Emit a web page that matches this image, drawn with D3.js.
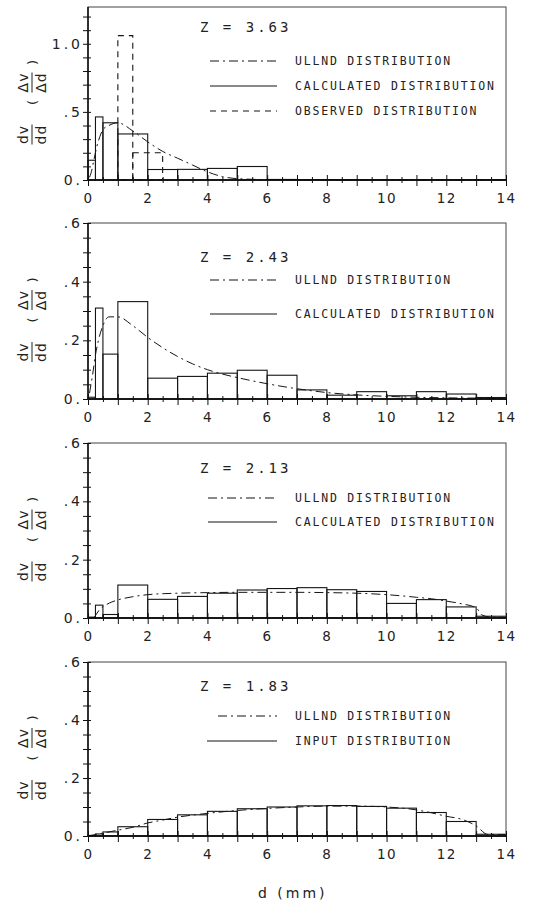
<!DOCTYPE html>
<html>
<head>
<meta charset="utf-8">
<script src="https://cdn.jsdelivr.net/npm/d3@7"></script>
<style>
  body { margin: 0; background: #fff; }
  text { font-family: "DejaVu Sans", sans-serif; fill: #222; }
  .mono { font-family: "DejaVu Sans Mono", monospace; }
</style>
</head>
<body>
<div id="chart"></div>
<script>
// ---- data ----
const binEdges = [0, 0.25, 0.5, 1, 2, 3, 4, 5, 6, 7, 8, 9, 10, 11, 12, 13, 14];
const zLabels = ["3.63", "2.43", "2.13", "1.83"];

// calculated / input histograms (one value per bin)
const calc363 = [0.145, 0.463, 0.42, 0.338, 0.077, 0.078, 0.085, 0.099, 0.004, 0.003, 0.003, 0.003, 0.002, 0.002, 0.002, 0.002];
const calc243 = [0.006, 0.31, 0.153, 0.332, 0.071, 0.077, 0.088, 0.098, 0.081, 0.031, 0.013, 0.025, 0.011, 0.025, 0.017, 0.005];
const calc213 = [0.003, 0.044, 0.012, 0.113, 0.064, 0.074, 0.085, 0.096, 0.101, 0.104, 0.097, 0.091, 0.05, 0.063, 0.038, 0.006];
const input183 = [0.002, 0.007, 0.014, 0.032, 0.057, 0.073, 0.085, 0.094, 0.1, 0.104, 0.105, 0.102, 0.096, 0.081, 0.05, 0.006];

// observed distribution (Z = 3.63 only)
const obsEdges = [1, 1.5, 2.5];
const obsValues = [1.06, 0.2];

// ULLND curves
const ullndX363 = [0.05, 0.1, 0.2, 0.3, 0.4, 0.5, 0.7, 1.0, 1.5, 2.0, 2.5, 3.0, 3.5, 4.0, 4.5, 5.0, 6, 8, 10, 14];
const ullndY363 = [0.02, 0.05, 0.15, 0.25, 0.32, 0.37, 0.40, 0.42, 0.36, 0.28, 0.21, 0.16, 0.11, 0.06, 0.025, 0.01, 0.003, 0.001, 0, 0];
const ullndX243 = [0.05, 0.15, 0.25, 0.35, 0.5, 0.7, 1.0, 1.5, 2, 2.5, 3, 3.5, 4, 4.5, 5, 5.5, 6, 6.5, 7, 7.5, 8, 9, 10, 11, 12, 13, 14];
const ullndY243 = [0.02, 0.08, 0.15, 0.2, 0.25, 0.28, 0.28, 0.25, 0.21, 0.175, 0.145, 0.12, 0.1, 0.085, 0.073, 0.062, 0.052, 0.043, 0.035, 0.028, 0.022, 0.014, 0.009, 0.006, 0.004, 0.003, 0.002];
const ullndX213 = [0.2, 0.4, 0.6, 0.8, 1.0, 1.5, 2, 3, 4, 5, 6, 7, 8, 9, 10, 10.5, 11, 11.5, 12, 12.5, 13, 13.2, 13.5, 14];
const ullndY213 = [0.0, 0.03, 0.045, 0.055, 0.062, 0.073, 0.08, 0.085, 0.087, 0.088, 0.088, 0.088, 0.087, 0.085, 0.08, 0.076, 0.071, 0.066, 0.058, 0.049, 0.035, 0.01, 0.003, 0.002];
const ullndX183 = [0, 0.5, 1, 1.5, 2, 2.5, 3, 3.5, 4, 5, 6, 7, 8, 9, 10, 11, 11.5, 12, 12.5, 13, 13.4, 14];
const ullndY183 = [0, 0.01, 0.02, 0.03, 0.045, 0.055, 0.065, 0.072, 0.078, 0.088, 0.095, 0.1, 0.103, 0.103, 0.1, 0.09, 0.08, 0.068, 0.058, 0.035, 0.005, 0.005];

// axis ticks
const xTickLabels = [0, 2, 4, 6, 8, 10, 12, 14];
const yTicksTop = [0, 0.5, 1.0];
const yTickTextTop = ["0.", ".5", "1.0"];
const yTicks = [0, 0.2, 0.4, 0.6];
const yTickText = ["0.", ".2", ".4", ".6"];

// ---- layout ----
const width = 549, height = 901;
const left = 88, right = 506;

const panels = [
  {top: 7,   bottom: 180, ymax: 1.27, minor: 0.1,  hist: calc363, ux: ullndX363, uy: ullndY363,
   ticks: yTicksTop, tickText: yTickTextTop, zY: 32, legY: [61, 86, 111], legX: [210, 210, 210],
   legend: ["ULLND DISTRIBUTION", "CALCULATED DISTRIBUTION", "OBSERVED DISTRIBUTION"]},
  {top: 223, bottom: 399, ymax: 0.6, minor: 0.05, hist: calc243, ux: ullndX243, uy: ullndY243,
   ticks: yTicks, tickText: yTickText, zY: 262, legY: [280, 314], legX: [210, 210],
   legend: ["ULLND DISTRIBUTION", "CALCULATED DISTRIBUTION"]},
  {top: 443, bottom: 618, ymax: 0.6, minor: 0.05, hist: calc213, ux: ullndX213, uy: ullndY213,
   ticks: yTicks, tickText: yTickText, zY: 473, legY: [498, 522], legX: [208, 208],
   legend: ["ULLND DISTRIBUTION", "CALCULATED DISTRIBUTION"]},
  {top: 662, bottom: 836, ymax: 0.6, minor: 0.05, hist: input183, ux: ullndX183, uy: ullndY183,
   ticks: yTicks, tickText: yTickText, zY: 691, legY: [716, 741], legX: [218, 207],
   legend: ["ULLND DISTRIBUTION", "INPUT DISTRIBUTION"]}
];

const dashDot = "9,4,2,4";
const dashObs = "6,5";

const svg = d3.select("#chart")
  .append("svg")
    .attr("width", width)
    .attr("height", height);

const x = d3.scaleLinear().domain([0, 14]).range([left, right]);

panels.forEach((p, i) => {
  const y = d3.scaleLinear().domain([0, p.ymax]).range([p.bottom, p.top]);
  const g = svg.append("g");

  // histogram bars
  const bars = p.hist.map((v, k) => ({x0: binEdges[k], x1: binEdges[k + 1], v: v}));
  g.selectAll("rect.bar")
    .data(bars)
    .join("rect")
      .attr("class", "bar")
      .attr("x", d => x(d.x0))
      .attr("y", d => y(d.v))
      .attr("width", d => x(d.x1) - x(d.x0))
      .attr("height", d => y(0) - y(d.v))
      .attr("fill", "none")
      .attr("stroke", "#151515")
      .attr("stroke-width", 1.1);

  // observed bars
  if (i === 0) {
    const obs = obsValues.map((v, k) => ({x0: obsEdges[k], x1: obsEdges[k + 1], v: v}));
    g.selectAll("rect.obs")
      .data(obs)
      .join("rect")
        .attr("class", "obs")
        .attr("x", d => x(d.x0))
        .attr("y", d => y(d.v))
        .attr("width", d => x(d.x1) - x(d.x0))
        .attr("height", d => y(0) - y(d.v))
        .attr("fill", "none")
        .attr("stroke", "#151515")
        .attr("stroke-width", 1.1)
        .attr("stroke-dasharray", dashObs);
  }

  // ULLND curve
  const line = d3.line()
    .x(d => x(d[0]))
    .y(d => y(d[1]))
    .curve(d3.curveMonotoneX);
  g.append("path")
    .datum(p.ux.map((v, k) => [v, p.uy[k]]))
    .attr("d", line)
    .attr("fill", "none")
    .attr("stroke", "#151515")
    .attr("stroke-width", 1)
    .attr("stroke-dasharray", dashDot);

  // frame
  g.append("rect")
    .attr("x", left).attr("y", p.top)
    .attr("width", right - left).attr("height", p.bottom - p.top)
    .attr("fill", "none")
    .attr("stroke", "#444")
    .attr("stroke-width", 1);
  g.append("line")
    .attr("x1", left).attr("x2", left).attr("y1", p.top).attr("y2", p.bottom)
    .attr("stroke", "#000").attr("stroke-width", 1.4);
  g.append("line")
    .attr("x1", left).attr("x2", right).attr("y1", p.bottom).attr("y2", p.bottom)
    .attr("stroke", "#000").attr("stroke-width", 1.4);

  // y axis
  const yAxis = g.append("g")
    .attr("transform", `translate(${left},0)`)
    .call(d3.axisLeft(y)
      .tickValues(d3.range(0, p.ymax + 1e-9, p.minor))
      .tickSize(5)
      .tickFormat(""));
  yAxis.select(".domain").remove();
  yAxis.selectAll(".tick line").attr("x2", -5).attr("x1", 3).attr("stroke", "#111");

  g.selectAll("text.ylab")
    .data(p.ticks)
    .join("text")
      .attr("class", "ylab")
      .attr("x", left - 5)
      .attr("y", d => y(d) + 5)
      .attr("text-anchor", "end")
      .style("font-size", "14px")
      .style("letter-spacing", "3px")
      .text((d, k) => p.tickText[k]);

  // x axis
  const xAxis = g.append("g")
    .attr("transform", `translate(0,${p.bottom})`)
    .call(d3.axisBottom(x)
      .tickValues(d3.range(0, 14.01, 0.5))
      .tickSize(5)
      .tickFormat(d => xTickLabels.includes(d) ? d : ""));
  xAxis.select(".domain").remove();
  xAxis.selectAll(".tick line")
    .attr("stroke", "#111")
    .attr("y1", d => Number.isInteger(d) ? -5 : -3)
    .attr("y2", d => Number.isInteger(d) ? 6 : 3);
  xAxis.selectAll(".tick text")
    .attr("y", 13)
    .style("font-family", "DejaVu Sans, sans-serif")
    .style("font-size", "13.5px")
    .style("letter-spacing", "1.5px")
    .attr("fill", "#222");

  // Z label
  g.append("text")
    .attr("class", "mono")
    .attr("x", 200)
    .attr("y", p.zY)
    .style("font-size", "14px")
    .style("letter-spacing", "3px")
    .text("Z = " + zLabels[i]);

  // legend
  const dashes = [dashDot, null, dashObs];
  p.legend.forEach((lab, k) => {
    g.append("line")
      .attr("x1", p.legX[k]).attr("x2", 277)
      .attr("y1", p.legY[k]).attr("y2", p.legY[k])
      .attr("stroke", "#151515").attr("stroke-width", 1.1)
      .attr("stroke-dasharray", dashes[k]);
    g.append("text")
      .attr("class", "mono")
      .attr("x", 295)
      .attr("y", p.legY[k] + 4)
      .style("font-size", "11.5px")
      .style("letter-spacing", "1.8px")
      .text(lab);
  });

  // y label: dv/dd (Δv/Δd), rotated
  const cy = (p.top + p.bottom) / 2 + 11;
  const yl = g.append("g").attr("transform", `translate(32,${cy}) rotate(-90)`);
  const frac = (cx, num, den) => {
    yl.append("text").attr("x", cx).attr("y", -4).attr("text-anchor", "middle")
      .style("font-size", "14px").style("letter-spacing", "1px").text(num);
    yl.append("line").attr("x1", cx - 10).attr("x2", cx + 10).attr("y1", 0).attr("y2", 0)
      .attr("stroke", "#222").attr("stroke-width", 1);
    yl.append("text").attr("x", cx).attr("y", 14).attr("text-anchor", "middle")
      .style("font-size", "14px").style("letter-spacing", "1px").text(den);
  };
  frac(-30, "dv", "dd");
  yl.append("text").attr("x", 2).attr("y", 5).attr("text-anchor", "middle")
    .style("font-size", "13px").text("(");
  frac(22, "\u0394v", "\u0394d");
  yl.append("text").attr("x", 42).attr("y", 5).attr("text-anchor", "middle")
    .style("font-size", "13px").text(")");
});

// x axis title
svg.append("text")
  .attr("x", 258)
  .attr("y", 898)
  .style("font-size", "14px")
  .style("letter-spacing", "3px")
  .text("d (mm)");
</script>
</body>
</html>
